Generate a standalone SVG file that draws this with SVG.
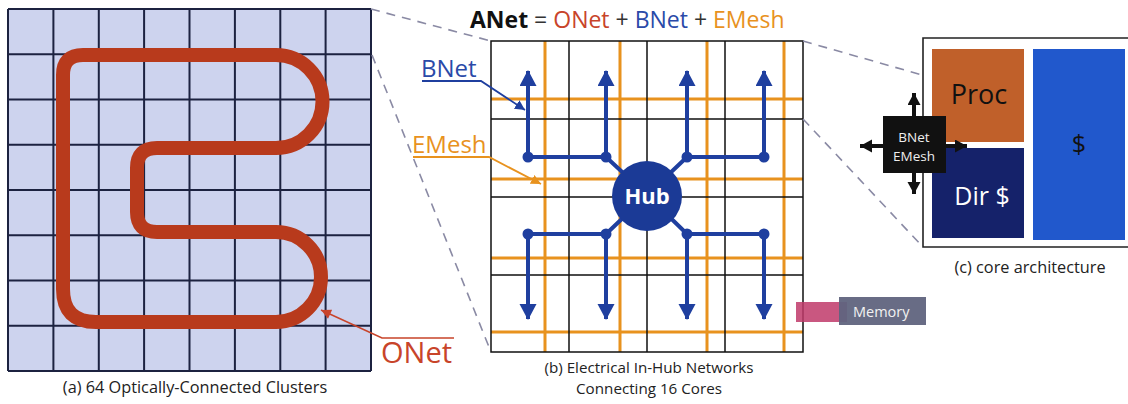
<svg xmlns="http://www.w3.org/2000/svg" width="1128" height="404" viewBox="0 0 1128 404">
<style>
text{font-family:"Open Sans","Liberation Sans",sans-serif}
.cap{font-size:16.3px;fill:#222}
.capb{font-size:15.2px;fill:#222}
.ga{stroke:#1c2240;stroke-width:2;fill:none}
.gb{stroke:#111;stroke-width:1.5;fill:none}
.go{stroke:#e8921e;stroke-width:3;fill:none}
.bl{stroke:#1f3f9f;stroke-width:4;fill:none}
.ar{stroke:#1f3f9f;stroke-width:4;fill:none;marker-end:url(#ahB)}
.sw{stroke:#111;stroke-width:4;fill:none;marker-end:url(#ahK)}
.dash{stroke:#8a8aa4;stroke-width:1.6;stroke-dasharray:9 7;fill:none}
</style>
<defs>
<marker id="ahB" markerUnits="userSpaceOnUse" markerWidth="18" markerHeight="18" refX="15" refY="8.5" orient="auto"><path d="M0,0 L16,8.5 L0,17 Z" fill="#1f3f9f"/></marker>
<marker id="ahR" markerUnits="userSpaceOnUse" markerWidth="12" markerHeight="12" refX="0" refY="5" orient="auto"><path d="M10,0 L0,5 L10,10 Z" fill="#c8442a"/></marker>
<marker id="ahU" markerUnits="userSpaceOnUse" markerWidth="12" markerHeight="12" refX="10" refY="5" orient="auto"><path d="M0,0 L10,5 L0,10 Z" fill="#1f3f9f"/></marker>
<marker id="ahO" markerUnits="userSpaceOnUse" markerWidth="12" markerHeight="12" refX="10" refY="5" orient="auto"><path d="M0,0 L10,5 L0,10 Z" fill="#e8921e"/></marker>
<marker id="ahK" markerUnits="userSpaceOnUse" markerWidth="14" markerHeight="14" refX="12" refY="6.5" orient="auto"><path d="M0,0 L12,6.5 L0,13 Z" fill="#111"/></marker>
</defs>
<rect width="1128" height="404" fill="#fff"/>

<g id="panel-a">
<rect x="8" y="9" width="363" height="362" fill="#cdd3ee"/>
<path class="ga" d="M8,9H371M8,54.25H371M8,99.5H371M8,144.75H371M8,190H371M8,235.25H371M8,280.5H371M8,325.75H371M8,371H371M8,9V371M53.4,9V371M98.8,9V371M144.1,9V371M189.5,9V371M234.9,9V371M280.3,9V371M325.6,9V371M371,9V371"/>
<path id="onet" d="M63,75 Q63,55 83,55 H276 A46.5,46.5 0 0 1 276,148 H157 Q137,148 137,168 V212 Q137,232 157,232 H276 A45,45 0 0 1 276,322 H96 Q63,322 63,289 Z" fill="none" stroke="#b83a1c" stroke-width="14" stroke-linejoin="round"/>
</g>

<g id="onet-label">
<text x="381" y="363" font-size="29" fill="#c8442a">ONet</text>
</g>

<g id="panel-b">
<path class="go" d="M491,99H803M491,179H803M491,258H803M491,332H803M545,41V352M620,41V352M707,41V352M784,41V352"/>
<path class="gb" d="M491,41H803V352H491Z M569,41V352M647,41V352M725,41V352M491,119H803M491,197H803M491,275H803"/>
</g>

<g id="connectors">
<path class="dash" d="M371,9 L491,41 M372,55 L491,352 M803,41 L922,75 M803,119 L922,246"/>
<path d="M321,310 L382,338 H454" fill="none" stroke="#c8442a" stroke-width="1.6" marker-start="url(#ahR)"/>
<path d="M422,81 H481 L525,110" fill="none" stroke="#1f3f9f" stroke-width="1.8" marker-end="url(#ahU)"/>
<path d="M413,157 H489 L541,184" fill="none" stroke="#e8921e" stroke-width="1.8" marker-end="url(#ahO)"/>
<g id="bnet-tree">
<path class="bl" d="M528,157H606M687,157H764M528,234H606M687,234H764M606,157L647,195M687,157L647,195M606,234L647,195M687,234L647,195"/>
<path class="ar" d="M528,157V71"/>
<path class="ar" d="M606,157V71"/>
<path class="ar" d="M687,157V71"/>
<path class="ar" d="M764,157V71"/>
<path class="ar" d="M528,234V319"/>
<path class="ar" d="M606,234V319"/>
<path class="ar" d="M687,234V319"/>
<path class="ar" d="M764,234V319"/>
<g fill="#1f3f9f"><circle cx="528" cy="157" r="5.5"/><circle cx="606" cy="157" r="5.5"/><circle cx="687" cy="157" r="5.5"/><circle cx="764" cy="157" r="5.5"/><circle cx="528" cy="234" r="5.5"/><circle cx="606" cy="234" r="5.5"/><circle cx="687" cy="234" r="5.5"/><circle cx="764" cy="234" r="5.5"/></g>
</g>
</g>

<g id="hub">
<circle cx="647" cy="196" r="35" fill="#1b3a96"/>
<text x="647" y="204" font-size="22" font-weight="bold" fill="#fff" text-anchor="middle">Hub</text>
</g>

<g id="bnet-label"><text x="421" y="77" font-size="24" fill="#2a4aa8">BNet</text></g>
<g id="emesh-label"><text x="412" y="153" font-size="24" fill="#e8921e">EMesh</text></g>

<g id="title">
<text x="470" y="28" font-size="23"><tspan font-weight="bold" fill="#111">ANet</tspan><tspan fill="#333"> = </tspan><tspan fill="#c8442a">ONet</tspan><tspan fill="#333"> + </tspan><tspan fill="#2a4aa8">BNet</tspan><tspan fill="#333"> + </tspan><tspan fill="#e8921e">EMesh</tspan></text>
</g>

<g id="panel-c">
<path d="M1128,38 H923 V247 H1128" fill="none" stroke="#222" stroke-width="1.6"/>
<g id="proc"><rect x="932" y="49" width="92" height="93" fill="#c0602a"/><text x="979" y="104" font-size="27" fill="#111" text-anchor="middle">Proc</text></g>
<g id="dir"><rect x="932" y="148" width="92" height="90" fill="#15226a"/><text x="982" y="205" font-size="25" fill="#fff" text-anchor="middle">Dir $</text></g>
<g id="cache"><rect x="1033" y="49" width="92" height="191" fill="#2158cc"/><text x="1079" y="153" font-size="25" fill="#111" text-anchor="middle">$</text></g>
<g id="switch">
<path class="sw" d="M914,116V93"/>
<path class="sw" d="M914,172V194"/>
<path class="sw" d="M883,146H860"/>
<path class="sw" d="M946,146H967"/>
<rect x="883" y="116" width="63" height="57" fill="#111"/>
<text x="914" y="142" font-size="13.5" fill="#eee" text-anchor="middle">BNet</text>
<text x="914" y="161" font-size="13.5" fill="#eee" text-anchor="middle">EMesh</text>
</g>
</g>

<g id="memory">
<rect x="796" y="302" width="51" height="20" fill="#c03a6a" opacity="0.85"/>
<rect x="839" y="297" width="87" height="28" fill="#60647e" opacity="0.95"/>
<text x="853" y="317" font-size="14.5" fill="#f2f2f2">Memory</text>
</g>

<g id="captions">
<text class="cap" x="195" y="393" text-anchor="middle">(a) 64 Optically-Connected Clusters</text>
<text class="capb" x="649" y="373" text-anchor="middle">(b) Electrical In-Hub Networks</text>
<text class="capb" x="649" y="394" text-anchor="middle">Connecting 16 Cores</text>
<text class="cap" x="1030" y="273" text-anchor="middle">(c) core architecture</text>
</g>
</svg>
